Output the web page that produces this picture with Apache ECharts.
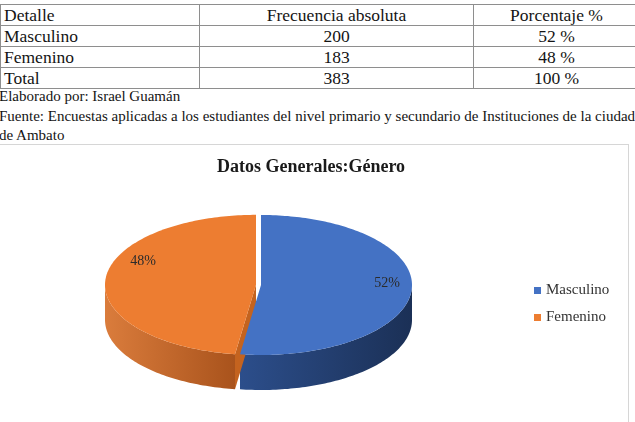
<!DOCTYPE html>
<html><head><meta charset="utf-8">
<script src="https://cdn.jsdelivr.net/npm/echarts@6/dist/echarts.min.js"></script>
<style>
html,body{margin:0;padding:0;width:635px;height:422px;overflow:hidden;background:#fff;font-family:'Liberation Serif',serif;color:#141414;}
#tbl{position:absolute;left:0;top:4px;border-collapse:collapse;width:640px;table-layout:fixed;font-family:'Liberation Serif',serif;font-size:17.5px;color:#141414;}
#tbl td{font-family:'Liberation Serif',serif;border:1px solid #8e8e8e;padding:0;height:20px;line-height:19px;text-align:center;white-space:nowrap;overflow:hidden;}
#tbl td:first-child{text-align:left;padding-left:3px;}
#notes{position:absolute;left:-1px;top:87px;font-family:'Liberation Serif',serif;font-size:15px;line-height:19.5px;white-space:nowrap;}
#chart{position:absolute;left:0;top:144px;width:629px;height:278px;}
#frame{position:absolute;left:-2px;top:144px;width:631px;height:290px;border-top:1px solid #d6d6d6;border-right:1px solid #d6d6d6;box-sizing:border-box;pointer-events:none;}
</style></head><body>
<table id="tbl"><colgroup><col style="width:199px"><col style="width:274px"><col></colgroup><tbody></tbody></table>
<div id="notes"></div>
<div id="chart"></div>
<div id="frame"></div>
<script>
// ---- data ----
const tableHeader = ['Detalle', 'Frecuencia absoluta', 'Porcentaje %'];
const categories = ['Masculino', 'Femenino'];
const frequencies = [200, 183];
const percentText = ['52 %', '48 %'];
const totalLabel = 'Total';
const totalFrequency = 383;
const totalPercent = '100 %';
const notes = [
  'Elaborado por: Israel Guamán',
  'Fuente: Encuestas aplicadas a los estudiantes del nivel primario y secundario de Instituciones de la ciudad',
  'de Ambato'
];
const chartTitle = 'Datos Generales:Género';

// ---- styles / layout ----
const serif = "'Liberation Serif', serif";
const sliceColors = ['#4472C4', '#ED7D31'];
const sideColors = [['#2C4E8B', '#1B3056'], ['#DA7C3C', '#A9531C']];
const wallColors = ['#22406F', '#C4631F'];
const L = { cx: 261, cy: 141, rx: 151, ry: 70, depth: 35, explode: [0, 5], labelR: 0.83,
            labelOffset: [[1, -6], [12, -19]] };

// ---- table ----
const tbody = document.querySelector('#tbl tbody');
function addRow(cells) {
  const tr = document.createElement('tr');
  cells.forEach(c => { const td = document.createElement('td'); td.textContent = c; tr.appendChild(td); });
  tbody.appendChild(tr);
}
addRow(tableHeader);
categories.forEach((c, i) => addRow([c, String(frequencies[i]), percentText[i]]));
addRow([totalLabel, String(totalFrequency), totalPercent]);
document.getElementById('notes').innerHTML = notes.map(n => n.replace(/&/g, '&amp;')).join('<br>');

// ---- chart ----
const chart = echarts.init(document.getElementById('chart'));
const total = frequencies.reduce((a, b) => a + b, 0);

function makeRender(si) {
  return function (params, api) {
    let before = 0;
    for (let k = 0; k < si; k++) before += frequencies[k];
    const v = api.value(0);
    const a0 = before / total * 2 * Math.PI, a1 = (before + v) / total * 2 * Math.PI;
    const mid = (a0 + a1) / 2;
    const e = L.explode[si];
    const ox = L.cx + e * Math.sin(mid), oy = L.cy - e * Math.cos(mid) * L.ry / L.rx;
    const P = (t, d, r) => [ox + L.rx * (r || 1) * Math.sin(t), oy - L.ry * (r || 1) * Math.cos(t) + (d || 0)];
    const arc = (s, t, d) => {
      const n = Math.max(2, Math.ceil((t - s) / 0.02)); const pts = [];
      for (let j = 0; j <= n; j++) pts.push(P(s + (t - s) * j / n, d));
      return pts;
    };
    const children = [];
    const s0 = Math.max(a0, Math.PI / 2), s1 = Math.min(a1, 1.5 * Math.PI);
    if (s1 > s0) {
      const top = arc(s0, s1, 0), bot = arc(s0, s1, L.depth).reverse();
      children.push({ type: 'polygon', z2: 1, shape: { points: top.concat(bot) },
        style: { fill: new echarts.graphic.LinearGradient(0, 0, 1, 0, [
          { offset: 0, color: sideColors[si][0] }, { offset: 1, color: sideColors[si][1] }]) } });
    }
    const wall = (a) => ({ type: 'polygon', z2: 2,
      shape: { points: [[ox, oy], P(a, 0), P(a, L.depth), [ox, oy + L.depth]] },
      style: { fill: wallColors[si] } });
    if (Math.sin(a0) < -1e-6) children.push(wall(a0));
    if (Math.sin(a1) > 1e-6) children.push(wall(a1));
    children.push({ type: 'polygon', z2: 5, shape: { points: [[ox, oy]].concat(arc(a0, a1, 0)) },
      style: { fill: sliceColors[si] } });
    const lp = P(mid, 0, L.labelR);
    children.push({ type: 'text', z2: 6, x: lp[0] + L.labelOffset[si][0], y: lp[1] + L.labelOffset[si][1],
      style: { text: Math.round(v / total * 100) + '%', fill: '#2b2b2b', fontFamily: serif, fontSize: 14,
               align: 'center', verticalAlign: 'middle' } });
    return { type: 'group', children };
  };
}

chart.setOption({
  animation: false,
  textStyle: { fontFamily: serif },
  title: { text: chartTitle, left: 212, top: 9,
    textStyle: { fontFamily: serif, fontWeight: 'bold', fontSize: 18, color: '#1a1a1a' } },
  legend: { data: categories, orient: 'vertical', left: 529, top: 134, icon: 'rect',
    itemWidth: 7, itemHeight: 7, itemGap: 12,
    textStyle: { fontFamily: serif, fontSize: 15, color: '#333' } },
  series: categories.map((c, i) => ({
    type: 'custom', name: c, coordinateSystem: 'none',
    itemStyle: { color: sliceColors[i] },
    data: [frequencies[i]],
    renderItem: makeRender(i)
  }))
});
</script>
</body></html>
